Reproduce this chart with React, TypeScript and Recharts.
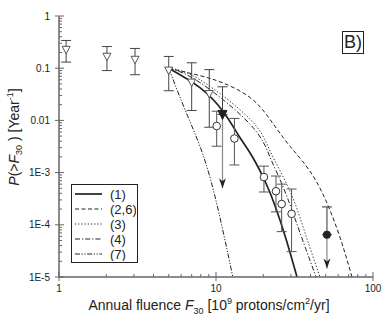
import React from 'react';
import { ComposedChart, Line, Scatter, XAxis, YAxis, ErrorBar, Legend } from 'recharts';

// axis ticks
const X_MAJOR = [1, 10, 100];
const X_MINOR = [2, 3, 4, 5, 6, 7, 8, 9, 20, 30, 40, 50, 60, 70, 80, 90];
const Y_MAJOR = [1, 0.1, 0.01, 1e-3, 1e-4, 1e-5];
const Y_LABELS = ['1', '0.1', '0.01', '1E-3', '1E-4', '1E-5'];
const Y_MINOR = [1e-5, 1e-4, 1e-3, 1e-2, 1e-1].flatMap((d) => [2, 3, 4, 5, 6, 7, 8, 9].map((k) => k * d));

// model curves
const CURVE_1 = [
  { x: 5, y: 0.1 }, { x: 7.9, y: 0.0425 }, { x: 11.1, y: 0.0148 }, { x: 14.2, y: 0.0047 },
  { x: 16.9, y: 0.0021 }, { x: 20.5, y: 6.9e-4 }, { x: 23.8, y: 2.3e-4 }, { x: 27.9, y: 5.4e-5 },
  { x: 32.8, y: 1e-5 },
];
const CURVE_2 = [
  { x: 5, y: 0.1 }, { x: 7.9, y: 0.072 }, { x: 11.1, y: 0.052 }, { x: 16.5, y: 0.0274 },
  { x: 22.1, y: 0.0104 }, { x: 29.6, y: 0.0032 }, { x: 42.7, y: 7.5e-4 }, { x: 59, y: 8.4e-5 },
  { x: 73.5, y: 1e-5 },
];
const CURVE_3 = [
  { x: 5, y: 0.1 }, { x: 7.9, y: 0.06 }, { x: 16.5, y: 0.0105 }, { x: 22.1, y: 0.0026 },
  { x: 29.6, y: 4.4e-4 }, { x: 36.9, y: 7.0e-5 }, { x: 45.9, y: 1e-5 },
];
const CURVE_4 = [
  { x: 5, y: 0.1 }, { x: 7.9, y: 0.053 }, { x: 16.5, y: 0.0084 }, { x: 22.1, y: 0.00197 },
  { x: 27.1, y: 4.85e-4 }, { x: 34.3, y: 7.0e-5 }, { x: 43.4, y: 1e-5 },
];
const CURVE_7 = [
  { x: 5, y: 0.1 }, { x: 6.35, y: 0.016 }, { x: 8.26, y: 0.0022 }, { x: 10.3, y: 2.0e-4 },
  { x: 12.8, y: 1e-5 },
];

// measured points: x, y, lower and upper end of the error bar
const TRIANGLES = [
  { x: 1.11, y: 0.225, lo: 0.131, hi: 0.34 },
  { x: 2.02, y: 0.166, lo: 0.09, hi: 0.26 },
  { x: 3.05, y: 0.145, lo: 0.075, hi: 0.239 },
  { x: 5.0, y: 0.09, lo: 0.037, hi: 0.168 },
  { x: 7.0, y: 0.053, lo: 0.0155, hi: 0.127 },
  { x: 9.06, y: 0.032, lo: 0.0074, hi: 0.094 },
];
const CIRCLES = [
  { x: 10.1, y: 0.0078, lo: 0.0032, hi: 0.015 },
  { x: 13.1, y: 0.0045, lo: 0.0014, hi: 0.0109 },
  { x: 20.2, y: 8.2e-4, lo: 4.25e-4, hi: 1.33e-3 },
  { x: 24.1, y: 4.4e-4, lo: 1.77e-4, hi: 8.6e-4 },
  { x: 26.2, y: 2.5e-4, lo: 7.4e-5, hi: 6.0e-4 },
  { x: 30.3, y: 1.62e-4, lo: 3.06e-5, hi: 4.85e-4 },
];
// upper limits (arrow goes down to lo)
const LIMIT_TRIANGLE = [{ x: 11.0, y: 0.013, lo: 5e-4, hi: 0.044 }];
const LIMIT_CIRCLE = [{ x: 50.9, y: 6.45e-5, lo: 1.45e-5, hi: 2.2e-4 }];

const INK = '#222';
const AXIS = '#666';
const FONT = '"Liberation Sans", Arial, sans-serif';

const LINES = [
  { name: '(1)', data: CURVE_1, dash: undefined, width: 1.7 },
  { name: '(2,6)', data: CURVE_2, dash: '4 2.5', width: 1 },
  { name: '(3)', data: CURVE_3, dash: '1.2 2', width: 1 },
  { name: '(4)', data: CURVE_4, dash: '5 2 1.2 2', width: 1 },
  { name: '(7)', data: CURVE_7, dash: '5 1.6 1.2 1.6 1.2 1.6', width: 1 },
];

const withErr = (rows: any[]) => rows.map((d) => ({ ...d, err: [d.y - d.lo, d.hi - d.y] }));
const withLimit = (rows: any[]) => rows.map((d) => ({ ...d, up: [0, d.hi - d.y], down: [d.y - d.lo, 0] }));
const arrowTips = [...LIMIT_TRIANGLE, ...LIMIT_CIRCLE].map((d) => ({ x: d.x, y: d.lo }));

const isMajor = (v: number) => Math.abs(Math.log10(v) - Math.round(Math.log10(v))) < 1e-6;
const yLabel = (v: number) => Y_LABELS[Y_MAJOR.findIndex((m) => Math.abs(m - v) / m < 1e-6)];

const BottomTick = ({ x, y, payload }: any) => {
  const ay = y - 15;
  const major = isMajor(payload.value);
  return (
    <g>
      <line x1={x} x2={x} y1={major ? ay + 4 : ay} y2={ay - (major ? 5 : 3)} stroke={AXIS} />
      {major && (
        <text x={x} y={ay + 15} textAnchor="middle" fontSize={10} fill={INK} fontFamily={FONT}>
          {payload.value}
        </text>
      )}
    </g>
  );
};

const TopTick = ({ x, y, payload }: any) => {
  const major = isMajor(payload.value);
  return <line x1={x} x2={x} y1={y} y2={y + (major ? 5 : 3)} stroke={AXIS} />;
};

const LeftTick = ({ x, y, payload }: any) => {
  const ax = x + 9;
  const major = isMajor(payload.value);
  return (
    <g>
      <line x1={major ? ax - 4 : ax} x2={ax + (major ? 5 : 3)} y1={y} y2={y} stroke={AXIS} />
      {major && (
        <text x={x} y={y} dy={3.5} textAnchor="end" fontSize={10} fill={INK} fontFamily={FONT}>
          {yLabel(payload.value)}
        </text>
      )}
    </g>
  );
};

const RightTick = ({ x, y, payload }: any) => {
  const major = isMajor(payload.value);
  return <line x1={x} x2={x - (major ? 5 : 3)} y1={y} y2={y} stroke={AXIS} />;
};

const TriDown = ({ cx, cy }: any) => (
  <path d={`M${cx - 4},${cy - 3.5} L${cx + 4},${cy - 3.5} L${cx},${cy + 4} Z`} fill="#fff" stroke="#555" strokeWidth={1} />
);
const TriDownFilled = ({ cx, cy }: any) => (
  <path d={`M${cx - 4.5},${cy - 4} L${cx + 4.5},${cy - 4} L${cx},${cy + 5} Z`} fill={INK} stroke={INK} strokeWidth={1} />
);
const OpenCircle = ({ cx, cy }: any) => <circle cx={cx} cy={cy} r={3.8} fill="#fff" stroke="#333" strokeWidth={1} />;
const FilledCircle = ({ cx, cy }: any) => <circle cx={cx} cy={cy} r={4} fill={INK} />;
const ArrowHead = ({ cx, cy }: any) => (
  <path d={`M${cx},${cy} L${cx - 3.5},${cy - 10} L${cx},${cy - 7} L${cx + 3.5},${cy - 10} Z`} fill={INK} />
);

const XTitle = ({ viewBox }: any) => (
  <text x={viewBox.x + 150} y={viewBox.y + 33} textAnchor="middle" fontSize={14} fill={INK} fontFamily={FONT} style={{ whiteSpace: 'pre' }}>
    Annual fluence <tspan fontStyle="italic">F</tspan>
    <tspan fontSize={9} dy={4}>30</tspan>
    <tspan dy={-4}> [10</tspan>
    <tspan fontSize={9} dy={-6}>9</tspan>
    <tspan dy={6}> protons/cm</tspan>
    <tspan fontSize={9} dy={-6}>2</tspan>
    <tspan dy={6}>/yr]</tspan>
  </text>
);

const YTitle = () => (
  <text x={19} y={137} transform="rotate(-90, 19, 137)" textAnchor="middle" fontSize={14} fill={INK} fontFamily={FONT} style={{ whiteSpace: 'pre' }}>
    <tspan fontStyle="italic">P</tspan>(&gt;<tspan fontStyle="italic">F</tspan>
    <tspan fontSize={9} dy={3}>30</tspan>
    <tspan dy={-3}> ) [Year</tspan>
    <tspan fontSize={9} dy={-6}>-1</tspan>
    <tspan dy={6}>]</tspan>
  </text>
);

const LegendBox = () => (
  <div style={{ width: 67, height: 79, border: `1.5px solid ${INK}`, boxSizing: 'border-box', background: '#fff' }}>
    <svg width={64} height={76}>
      {LINES.map((l, i) => (
        <g key={l.name}>
          <line x1={3} x2={30} y1={9 + i * 15} y2={9 + i * 15} stroke={INK} strokeWidth={l.width} strokeDasharray={l.dash} />
          <text x={38} y={9 + i * 15} dy={4.5} fontSize={13} fill={INK} fontFamily={FONT}>{l.name}</text>
        </g>
      ))}
    </svg>
  </div>
);

export default function App() {
  const xTicks = [...X_MAJOR, ...X_MINOR];
  const yTicks = [...Y_MAJOR, ...Y_MINOR];
  return (
    <div style={{ position: 'absolute', left: 0, top: 0, width: 391, height: 325, background: '#fff', fontFamily: FONT }}>
      <ComposedChart width={391} height={325} margin={{ top: 16, right: 18, bottom: 0, left: 0 }}>
        <XAxis xAxisId="b" dataKey="x" type="number" scale="log" domain={[1, 100]} allowDataOverflow
          ticks={xTicks} interval={0} height={48} tickSize={0} tickMargin={15} tickLine={false}
          tick={<BottomTick />} axisLine={{ stroke: AXIS, strokeWidth: 1.5 }} label={<XTitle />} />
        <XAxis xAxisId="t" orientation="top" dataKey="x" type="number" scale="log" domain={[1, 100]} allowDataOverflow
          ticks={xTicks} interval={0} height={0} tickSize={0} tickMargin={0} tickLine={false}
          tick={<TopTick />} axisLine={{ stroke: AXIS, strokeWidth: 1.5 }} />
        <YAxis yAxisId="l" dataKey="y" type="number" scale="log" domain={[1e-5, 1]} allowDataOverflow
          ticks={yTicks} interval={0} width={59} tickSize={0} tickMargin={9} tickLine={false}
          tick={<LeftTick />} axisLine={{ stroke: AXIS, strokeWidth: 1.5 }} label={<YTitle />} />
        <YAxis yAxisId="r" orientation="right" dataKey="y" type="number" scale="log" domain={[1e-5, 1]} allowDataOverflow
          ticks={yTicks} interval={0} width={0} tickSize={0} tickMargin={0} tickLine={false}
          tick={<RightTick />} axisLine={{ stroke: AXIS, strokeWidth: 1.5 }} />
        <Legend layout="vertical" align="center" verticalAlign="middle"
          wrapperStyle={{ left: 71, top: 184, width: 67, height: 79 }} content={() => <LegendBox />} />

        {LINES.map((l) => (
          <Line key={l.name} xAxisId="b" yAxisId="l" data={l.data} dataKey="y" type="natural" name={l.name}
            stroke={INK} strokeWidth={l.width} strokeDasharray={l.dash} dot={false} activeDot={false}
            isAnimationActive={false} />
        ))}

        <Scatter xAxisId="b" yAxisId="l" data={withErr(TRIANGLES)} shape={<TriDown />} isAnimationActive={false}>
          <ErrorBar dataKey="err" direction="y" width={5} stroke="#444" strokeWidth={1} isAnimationActive={false} />
        </Scatter>
        <Scatter xAxisId="b" yAxisId="l" data={withErr(CIRCLES)} shape={<OpenCircle />} isAnimationActive={false}>
          <ErrorBar dataKey="err" direction="y" width={5} stroke="#555" strokeWidth={1} isAnimationActive={false} />
        </Scatter>
        <Scatter xAxisId="b" yAxisId="l" data={withLimit(LIMIT_TRIANGLE)} shape={<TriDownFilled />} isAnimationActive={false}>
          <ErrorBar dataKey="up" direction="y" width={5} stroke="#444" strokeWidth={1} isAnimationActive={false} />
          <ErrorBar dataKey="down" direction="y" width={0} stroke="#888" strokeWidth={1.2} isAnimationActive={false} />
        </Scatter>
        <Scatter xAxisId="b" yAxisId="l" data={withLimit(LIMIT_CIRCLE)} shape={<FilledCircle />} isAnimationActive={false}>
          <ErrorBar dataKey="up" direction="y" width={5} stroke="#333" strokeWidth={1} isAnimationActive={false} />
          <ErrorBar dataKey="down" direction="y" width={0} stroke="#888" strokeWidth={1.2} isAnimationActive={false} />
        </Scatter>
        <Scatter xAxisId="b" yAxisId="l" data={arrowTips} shape={<ArrowHead />} isAnimationActive={false} />
      </ComposedChart>
      <div style={{ position: 'absolute', left: 342, top: 31, width: 22, height: 23, border: `1px solid ${INK}`, boxSizing: 'border-box',
        fontSize: 18, lineHeight: '21px', textAlign: 'center', color: INK }}>
        B)
      </div>
    </div>
  );
}
